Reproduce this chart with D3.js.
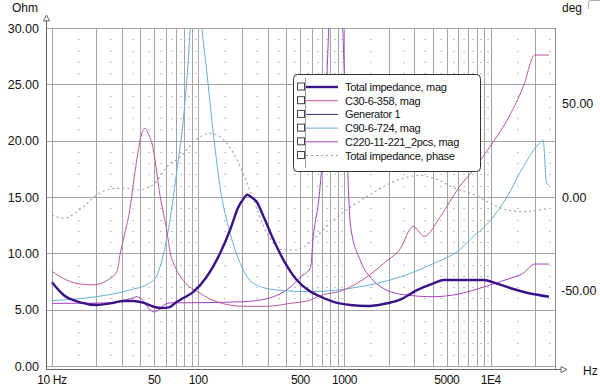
<!DOCTYPE html>
<html>
<head>
<meta charset="utf-8">
<script src="https://cdn.jsdelivr.net/npm/d3@7"></script>
<style>
  html, body { margin: 0; padding: 0; background: #fff; }
  svg text { font-family: "Liberation Sans", Arial, sans-serif; fill: #111; }
</style>
</head>
<body>
<div id="container"></div>
<script>
// impedance curves, [frequency Hz, ohm]
const totalMag = [[10,7.43],[12,6.3],[15.6,5.65],[20.3,5.41],[25,5.56],[31,5.77],[36,5.77],[42,5.62],[49.5,5.26],[56,5.15],[63,5.2],[71.5,5.7],[81,6.1],[93,6.6],[114,7.9],[141,10.0],[165,12.07],[188,14.1],[205,14.9],[216,15.2],[230,15.0],[250,14.6],[280,13.25],[327,11.2],[383,9.4],[472,7.63],[585,6.6],[648,6.3],[842,5.7],[1098,5.41],[1420,5.32],[1850,5.5],[2400,5.9],[3130,6.74],[4060,7.34],[4770,7.63],[8890,7.63],[10900,7.34],[13700,6.9],[17700,6.5],[25000,6.15]];
const c30Mag = [[10,8.4],[12.7,7.6],[15.6,7.28],[19.2,7.2],[23.8,7.6],[27.8,8.4],[29.3,10],[31.5,11.8],[33.4,13.25],[38,18.3],[41,20.6],[43.4,21.1],[46,20.5],[48.2,19.8],[55,15.0],[61,12.0],[64.5,10],[70,8.7],[79,7.6],[103,6.45],[134,5.7],[204,5.3],[295,5.3],[425,5.56],[585,5.85],[648,6.15],[985,6.74],[1420,7.9],[1850,9.1],[2400,10.4],[2950,12.4],[3200,12.0],[3500,11.5],[4520,13.25],[6100,15.9],[7600,17.4],[9900,19.5],[12900,21.8],[16700,24.8],[20000,27.6],[25000,27.6]];
const c90Mag = [[10,5.8],[20,6.15],[34,6.74],[47,7.4],[52,8.0],[58,10],[64.5,13.2],[71.5,17.4],[79,21.8],[86,27.7],[90,32],[95,36],[100,34],[106,30],[114,26.3],[124,21.8],[141,15.9],[165,11.8],[194,9.1],[238,7.34],[345,6.74],[585,6.6],[1280,7.04],[2400,7.9],[4060,9.1],[6100,10.3],[7600,11.5],[9300,12.5],[12900,15.0],[16700,17.7],[21600,19.8],[22800,20.05],[24100,16.2],[25000,16.06]];
const c220Mag = [[10,5.56],[20,5.58],[25,5.62],[30,5.8],[35,6.0],[38,6.15],[42,5.8],[46,5.1],[50,4.8],[54,5.0],[58,5.4],[65,5.6],[100,5.62],[200,5.7],[300,6.0],[425,7.0],[500,7.9],[585,8.7],[612,11.5],[670,15],[715,19.5],[780,30],[830,42],[880,46],[930,40],[975,30],[1040,19],[1100,12.4],[1280,9.4],[1570,7.6],[1940,6.74],[2640,6.3],[4060,6.15],[6100,6.4],[8900,7.0],[13700,7.8],[16500,8.2],[20000,9.05],[25000,9.05]];
// phase, [frequency Hz, deg]
const totalPhase = [[10,-9.6],[12,-11.3],[16.4,-5.2],[21,2],[27.8,4.6],[34,4.5],[40,3.7],[44,4.5],[50,7],[56,12],[61,16],[75.5,21.4],[93,29.4],[121,33.9],[157,28.6],[194,16.1],[239,-1.6],[295,-19.3],[383,-28.2],[472,-28.2],[585,-23.8],[842,-12.2],[1420,0.2],[2400,9.5],[3300,11.5],[4060,9.9],[6100,3.7],[7600,1.5],[9900,-3.4],[12900,-6.9],[16700,-7.8],[25000,-6.0]];

const ohmTicks = [0, 5, 10, 15, 20, 25, 30];
const degTicks = [-50, 0, 50];
const freqLabels = [[10, '10 Hz'], [50, '50'], [100, '100'], [500, '500'], [1000, '1000'], [5000, '5000'], [10000, '1E4']];
const legendNames = ['Total impedance, mag', 'C30-6-358, mag', 'Generator 1', 'C90-6-724, mag', 'C220-11-221_2pcs, mag', 'Total impedance, phase'];
const legendColors = ['#3c1287', '#c2559d', '#3a2a6a', '#62b2d6', '#a83ec8', '#97a6b3'];

const width = 600, height = 391;
const pLeft = 46, pRight = 555, pTop = 28, pBottom = 366;

const svg = d3.select('#container').append('svg')
    .attr('width', width)
    .attr('height', height);

const x = d3.scaleLog().domain([9.1, 27500]).range([pLeft, pRight]);
const y = d3.scaleLinear().domain([0, 30]).range([pBottom, pTop]);
const yDeg = d3.scaleLinear().domain([-90, 90]).range([pBottom, pTop]);

// grid
const grid = svg.append('g');
const majorF = [];
const dotF = [];
for (let e = 1; e <= 4; e++) {
    for (let m = 1; m <= 9; m++) {
        const f = m * Math.pow(10, e);
        if (f < 27500) majorF.push(f);
        const h = (m + 0.5) * Math.pow(10, e);
        if (h < 27500) dotF.push(h);
    }
}
grid.selectAll('line.v')
    .data(majorF)
    .enter()
    .append('line')
    .attr('x1', d => Math.round(x(d)) + 0.5)
    .attr('x2', d => Math.round(x(d)) + 0.5)
    .attr('y1', pTop)
    .attr('y2', pBottom)
    .attr('stroke', '#a4a4a4');
grid.selectAll('line.h')
    .data(ohmTicks)
    .enter()
    .append('line')
    .attr('x1', pLeft)
    .attr('x2', pRight)
    .attr('y1', d => Math.round(y(d)) + 0.5)
    .attr('y2', d => Math.round(y(d)) + 0.5)
    .attr('stroke', '#a4a4a4');
grid.append('line')
    .attr('x1', pRight + 0.5).attr('x2', pRight + 0.5)
    .attr('y1', pTop).attr('y2', pBottom + 3)
    .attr('stroke', '#8c8c8c');

// dotted minor grid: small dashes at every ohm and half positions
const dots = [];
dotF.forEach(f => d3.range(1, 30).forEach(o => { if (o % 5) dots.push([f, o]); }));
grid.selectAll('rect.dot')
    .data(dots)
    .enter()
    .append('rect')
    .attr('x', d => Math.round(x(d[0])))
    .attr('y', d => Math.round(y(d[1])))
    .attr('width', 2)
    .attr('height', 1)
    .attr('fill', '#c2c2c2');

// axes
const axes = svg.append('g').attr('stroke', '#666').attr('fill', 'none');
axes.append('line')
    .attr('x1', pLeft + 0.5).attr('x2', pLeft + 0.5)
    .attr('y1', 20).attr('y2', pBottom + 4);
axes.append('line')
    .attr('x1', pLeft).attr('x2', 561)
    .attr('y1', pBottom + 3.5).attr('y2', pBottom + 3.5);
axes.append('path').attr('d', `M${pLeft + 0.5},15 L${pLeft - 2.5},21 L${pLeft + 3.5},21 Z`);
axes.append('path').attr('d', `M567,${pBottom + 3.5} L561,${pBottom + 0.5} L561,${pBottom + 6.5} Z`);

svg.append('g').selectAll('text')
    .data(ohmTicks)
    .enter()
    .append('text')
    .attr('x', 39)
    .attr('y', d => y(d) + 4.5)
    .attr('text-anchor', 'end')
    .attr('font-size', 12.5)
    .text(d => d.toFixed(2));
svg.append('g').selectAll('text')
    .data(degTicks)
    .enter()
    .append('text')
    .attr('x', d => d < 0 ? 561 : 562)
    .attr('y', d => yDeg(d) + 4.5)
    .attr('font-size', 12.5)
    .text(d => d.toFixed(2));
svg.append('g').selectAll('text')
    .data(freqLabels)
    .enter()
    .append('text')
    .attr('x', d => x(d[0]))
    .attr('y', 384)
    .attr('text-anchor', 'middle')
    .attr('font-size', 12)
    .attr('letter-spacing', -0.4)
    .text(d => d[1]);
svg.append('text').attr('x', 12).attr('y', 12).attr('font-size', 12).text('Ohm');
svg.append('text').attr('x', 562).attr('y', 12).attr('font-size', 12).text('deg');
svg.append('text').attr('x', 583).attr('y', 375).attr('font-size', 12).text('Hz');
svg.append('path')
    .attr('d', 'M588.5,9 L588.5,2.5 Q588.5,0.5 590.5,0.5 L600,0.5')
    .attr('fill', 'none')
    .attr('stroke', '#aaa');

// curves
svg.append('clipPath').attr('id', 'plot')
    .append('rect')
    .attr('x', pLeft).attr('y', pTop)
    .attr('width', pRight - pLeft).attr('height', pBottom - pTop);
const curves = svg.append('g').attr('clip-path', 'url(#plot)');
const magLine = d3.line()
    .x(d => x(d[0]))
    .y(d => y(d[1]))
    .curve(d3.curveMonotoneX);
const phaseLine = d3.line()
    .x(d => x(d[0]))
    .y(d => yDeg(d[1]))
    .curve(d3.curveMonotoneX);

curves.append('path').datum(totalPhase)
    .attr('d', phaseLine)
    .attr('fill', 'none')
    .attr('stroke', legendColors[5])
    .attr('stroke-width', 1.2)
    .attr('stroke-dasharray', '2,3');
[[c220Mag, 4], [c90Mag, 3], [c30Mag, 1]].forEach(([s, i]) => {
    curves.append('path').datum(s)
        .attr('d', magLine)
        .attr('fill', 'none')
        .attr('stroke', legendColors[i])
        .attr('stroke-width', 1);
});
curves.append('path').datum(totalMag)
    .attr('d', magLine)
    .attr('fill', 'none')
    .attr('stroke', legendColors[0])
    .attr('stroke-width', 2.4);

// legend
const lg = svg.append('g');
lg.append('rect')
    .attr('x', 293.5).attr('y', 74.5)
    .attr('width', 187).attr('height', 97)
    .attr('rx', 4)
    .attr('fill', '#fff')
    .attr('stroke', '#333');
lg.append('line')
    .attr('x1', 305.5).attr('x2', 305.5)
    .attr('y1', 78).attr('y2', 168)
    .attr('stroke', '#999');
const rows = lg.selectAll('g.row')
    .data(legendNames)
    .enter()
    .append('g')
    .attr('transform', (d, i) => `translate(0,${86.5 + i * 13.7})`);
rows.append('rect')
    .attr('x', 297.5).attr('y', -3.5)
    .attr('width', 7).attr('height', 7)
    .attr('fill', '#fff')
    .attr('stroke', '#444');
rows.append('line')
    .attr('x1', 306).attr('x2', 338)
    .attr('y1', 0.5).attr('y2', 0.5)
    .attr('stroke', (d, i) => legendColors[i])
    .attr('stroke-width', (d, i) => i === 0 ? 2.4 : 1)
    .attr('stroke-dasharray', (d, i) => i === 5 ? '2,3' : null);
rows.append('text')
    .attr('x', 345)
    .attr('y', 4.5)
    .attr('font-size', 11)
    .attr('letter-spacing', -0.3)
    .text(d => d);
</script>
</body>
</html>
